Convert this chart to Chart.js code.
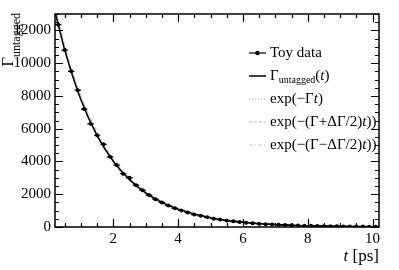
<!DOCTYPE html>
<html lang="en">
<head>
  <meta charset="UTF-8" />
  <title>Untagged decay rate</title>
  <script src="https://cdn.jsdelivr.net/npm/chart.js"></script>
  <style>
    body { margin: 0; background: #fff; }
    canvas { display: block; }
  </style>
</head>
<body>
  <canvas id="decayChart" width="399" height="270"></canvas>

  <script>
    // Toy data: bin centres [ps], counts, errors
    const binT = [0.3, 0.5, 0.7, 0.9, 1.1, 1.3, 1.5, 1.7, 1.9, 2.1,
                  2.3, 2.5, 2.7, 2.9, 3.1, 3.3, 3.5, 3.7, 3.9, 4.1,
                  4.3, 4.5, 4.7, 4.9, 5.1, 5.3, 5.5, 5.7, 5.9, 6.1,
                  6.3, 6.5, 6.7, 6.9, 7.1, 7.3, 7.5, 7.7, 7.9, 8.1,
                  8.3, 8.5, 8.7, 8.9, 9.1, 9.3, 9.5, 9.7, 9.9, 10.1];
    const toyN = [12350, 10800, 9500, 8350, 7200, 6300, 5600, 5050, 4280, 3780,
                  3250, 3000, 2550, 2250, 1950, 1700, 1500, 1310, 1140, 1010,
                  880, 760, 680, 590, 510, 455, 390, 345, 300, 265,
                  230, 205, 175, 155, 135, 120, 100, 92, 80, 70,
                  62, 52, 47, 40, 36, 31, 27, 24, 21, 18];
    const toyErr = [111, 104, 97, 91, 85, 79, 75, 71, 65, 61,
                    57, 55, 50, 47, 44, 41, 39, 36, 34, 32,
                    30, 28, 26, 24, 23, 21, 20, 19, 17, 16,
                    15, 14, 13, 12, 12, 11, 10, 10, 9, 8,
                    8, 7, 7, 6, 6, 6, 5, 5, 5, 4];

    // model curves, sampled at curveT
    const curveT    = [0.2, 0.5, 1.0, 1.5, 2.0, 2.5, 3.0, 3.5, 4.0, 5.0, 6.0, 7.0, 8.0, 9.0, 10.2];
    const untagged  = [13150, 10800, 7760, 5580, 4010, 2890, 2080, 1500, 1090, 570, 296, 155, 81, 42, 17];
    const expG      = [13400, 11000, 7900, 5670, 4070, 2920, 2100, 1505, 1080, 557, 287, 148, 76, 39, 17];
    const expGplus  = [13350, 10900, 7780, 5540, 3950, 2810, 2000, 1430, 1020, 515, 262, 133, 67, 34, 14];
    const expGminus = [13450, 11100, 8020, 5800, 4190, 3030, 2190, 1580, 1145, 598, 312, 163, 85, 44, 19];

    // axis ticks
    const xTicks = [2, 4, 6, 8, 10];
    const yTicks = [0, 2000, 4000, 6000, 8000, 10000, 12000];
    const xMinor = 0.5;
    const yMinor = 500;

    const serif = '"Liberation Serif", "DejaVu Serif", serif';

    function pts(xs, ys) {
      return xs.map((v, i) => ({ x: v, y: ys[i] }));
    }

    // horizontal bin-width bars and vertical error bars for the toy data
    const errorBars = {
      id: 'errorBars',
      afterDatasetsDraw(chart) {
        const { ctx, scales: { x, y } } = chart;
        ctx.save();
        ctx.strokeStyle = '#000';
        ctx.lineWidth = 1.2;
        binT.forEach((t, i) => {
          const px = x.getPixelForValue(t);
          const py = y.getPixelForValue(toyN[i]);
          ctx.beginPath();
          ctx.moveTo(x.getPixelForValue(t - 0.1), py);
          ctx.lineTo(x.getPixelForValue(t + 0.1), py);
          ctx.moveTo(px, y.getPixelForValue(toyN[i] - toyErr[i]));
          ctx.lineTo(px, y.getPixelForValue(toyN[i] + toyErr[i]));
          ctx.stroke();
        });
        ctx.restore();
      }
    };

    // ROOT-like frame with inward ticks on all four sides, titles and legend
    const frame = {
      id: 'frame',
      afterDraw(chart) {
        const { ctx, chartArea: a, scales: { x, y } } = chart;
        ctx.save();
        ctx.strokeStyle = '#000';
        ctx.lineWidth = 1.5;
        ctx.strokeRect(a.left, a.top, a.right - a.left, a.bottom - a.top);

        ctx.lineWidth = 1.2;
        ctx.beginPath();
        for (let v = 0; v <= 10.2; v += xMinor) {
          if (v < x.min) continue;
          const px = Math.round(x.getPixelForValue(v)) + 0.5;
          const len = (Math.abs(v % 2) < 1e-6) ? 8 : 4;
          ctx.moveTo(px, a.bottom); ctx.lineTo(px, a.bottom - len);
          ctx.moveTo(px, a.top); ctx.lineTo(px, a.top + len);
        }
        for (let v = 0; v <= y.max; v += yMinor) {
          const py = Math.round(y.getPixelForValue(v)) + 0.5;
          const len = (v % 2000 === 0) ? 8 : 4;
          ctx.moveTo(a.left, py); ctx.lineTo(a.left + len, py);
          ctx.moveTo(a.right, py); ctx.lineTo(a.right - len, py);
        }
        ctx.stroke();

        ctx.fillStyle = '#000';
        ctx.textBaseline = 'alphabetic';

        // x title: "t [ps]" right aligned
        ctx.font = '17px ' + serif;
        const rest = ' [ps]';
        const wRest = ctx.measureText(rest).width;
        ctx.textAlign = 'left';
        ctx.fillText(rest, a.right - wRest, 261);
        ctx.font = 'italic 17px ' + serif;
        const wT = ctx.measureText('t').width;
        ctx.fillText('t', a.right - wRest - wT, 261);

        // y title: Gamma_untagged, rotated, right aligned to top
        ctx.save();
        ctx.rotate(-Math.PI / 2);
        ctx.font = '12px ' + serif;
        const wSub = ctx.measureText('untagged').width;
        ctx.fillText('untagged', -13 - wSub, 20);
        ctx.font = '17px ' + serif;
        const wG = ctx.measureText('Γ').width;
        ctx.fillText('Γ', -13 - wSub - wG, 13);
        ctx.restore();

        // legend
        const lx0 = 249, lx1 = 266, tx = 270;
        const rows = [53, 76, 99, 122, 145];
        ctx.font = '15px ' + serif;
        ctx.textBaseline = 'middle';

        // Toy data
        ctx.strokeStyle = '#000'; ctx.lineWidth = 1.2;
        ctx.beginPath(); ctx.moveTo(lx0, rows[0]); ctx.lineTo(lx1, rows[0]); ctx.stroke();
        ctx.beginPath(); ctx.arc((lx0 + lx1) / 2, rows[0], 2.2, 0, Math.PI * 2); ctx.fill();
        ctx.fillText('Toy data', tx, rows[0]);

        // Gamma_untagged(t)
        ctx.lineWidth = 1.5;
        ctx.beginPath(); ctx.moveTo(lx0, rows[1]); ctx.lineTo(lx1, rows[1]); ctx.stroke();
        let cx = tx;
        ctx.font = '15px ' + serif;
        ctx.fillText('Γ', cx, rows[1]); cx += ctx.measureText('Γ').width;
        ctx.font = '10px ' + serif;
        ctx.fillText('untagged', cx, rows[1] + 4); cx += ctx.measureText('untagged').width;
        ctx.font = '15px ' + serif;
        ctx.fillText('(', cx, rows[1]); cx += ctx.measureText('(').width;
        ctx.font = 'italic 15px ' + serif;
        ctx.fillText('t', cx, rows[1]); cx += ctx.measureText('t').width;
        ctx.font = '15px ' + serif;
        ctx.fillText(')', cx, rows[1]);

        // exp curves
        const expRows = [
          { pre: 'exp(−Γ', dash: [1, 2], col: '#9a9a9a' },
          { pre: 'exp(−(Γ+ΔΓ/2)', dash: [3, 2], col: '#b4b4b4' },
          { pre: 'exp(−(Γ−ΔΓ/2)', dash: [4, 2, 1, 2], col: '#c8c8c8' }
        ];
        expRows.forEach((r, k) => {
          const yy = rows[2 + k];
          ctx.strokeStyle = r.col; ctx.lineWidth = 1;
          ctx.setLineDash(r.dash);
          ctx.beginPath(); ctx.moveTo(lx0, yy); ctx.lineTo(lx1, yy); ctx.stroke();
          ctx.setLineDash([]);
          let px = tx;
          ctx.font = '15px ' + serif;
          ctx.fillText(r.pre, px, yy); px += ctx.measureText(r.pre).width;
          ctx.font = 'italic 15px ' + serif;
          ctx.fillText('t', px, yy); px += ctx.measureText('t').width;
          ctx.font = '15px ' + serif;
          ctx.fillText(k === 0 ? ')' : '))', px, yy);
        });
        ctx.restore();
      }
    };

    const ctx = document.getElementById('decayChart').getContext('2d');
    new Chart(ctx, {
      type: 'scatter',
      data: {
        datasets: [
          {
            label: 'Toy data',
            data: pts(binT, toyN),
            showLine: false,
            pointRadius: 2,
            pointBackgroundColor: '#000',
            pointBorderWidth: 0,
            order: 0
          },
          {
            label: 'untagged',
            data: pts(curveT, untagged),
            showLine: true,
            borderColor: '#000',
            borderWidth: 1.5,
            pointRadius: 0,
            cubicInterpolationMode: 'monotone',
            order: 1
          },
          {
            label: 'exp(-Gt)',
            data: pts(curveT, expG),
            showLine: true,
            borderColor: '#9a9a9a',
            borderWidth: 1,
            borderDash: [1, 2],
            pointRadius: 0,
            cubicInterpolationMode: 'monotone',
            order: 2
          },
          {
            label: 'exp(-(G+dG/2)t)',
            data: pts(curveT, expGplus),
            showLine: true,
            borderColor: '#b4b4b4',
            borderWidth: 1,
            borderDash: [3, 2],
            pointRadius: 0,
            cubicInterpolationMode: 'monotone',
            order: 3
          },
          {
            label: 'exp(-(G-dG/2)t)',
            data: pts(curveT, expGminus),
            showLine: true,
            borderColor: '#c8c8c8',
            borderWidth: 1,
            borderDash: [4, 2, 1, 2],
            pointRadius: 0,
            cubicInterpolationMode: 'monotone',
            order: 4
          }
        ]
      },
      options: {
        responsive: false,
        devicePixelRatio: 1,
        animation: false,
        layout: { padding: { top: 14, right: 20, left: 0, bottom: 0 } },
        plugins: { legend: { display: false }, tooltip: { enabled: false } },
        scales: {
          x: {
            type: 'linear',
            min: 0.2,
            max: 10.2,
            grid: { display: false, drawTicks: false },
            border: { display: false },
            afterBuildTicks: s => { s.ticks = xTicks.map(v => ({ value: v })); },
            afterFit: s => { s.height = 43; },
            ticks: {
              padding: 3,
              color: '#000',
              font: { family: serif, size: 15 },
              callback: v => String(v),
              maxRotation: 0
            }
          },
          y: {
            min: 0,
            max: 13000,
            grid: { display: false, drawTicks: false },
            border: { display: false },
            afterBuildTicks: s => { s.ticks = yTicks.map(v => ({ value: v })); },
            afterFit: s => { s.width = 55; },
            ticks: {
              padding: 4,
              color: '#000',
              font: { family: serif, size: 15 },
              callback: v => String(v)
            }
          }
        }
      },
      plugins: [errorBars, frame]
    });
  </script>
</body>
</html>
